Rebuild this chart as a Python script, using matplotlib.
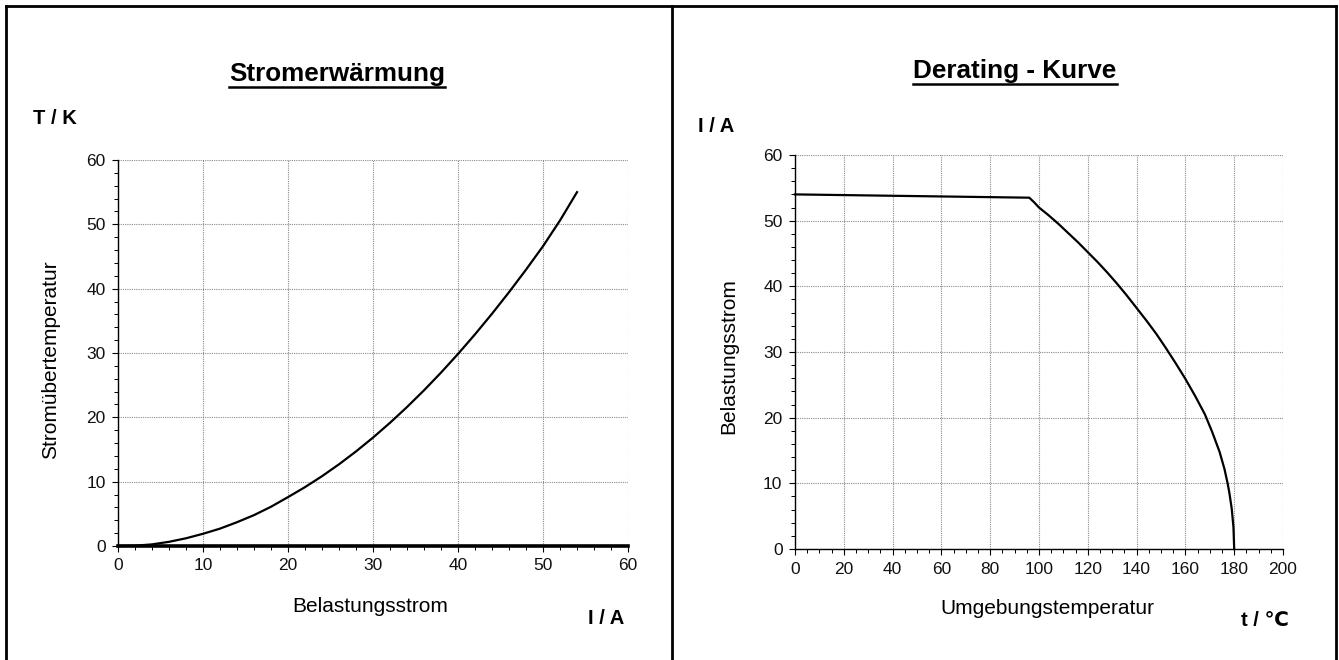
import matplotlib
matplotlib.use('Agg')
import matplotlib.pyplot as plt
from matplotlib.lines import Line2D
from matplotlib.ticker import MultipleLocator

plt.rcParams['font.family'] = ['Liberation Sans', 'DejaVu Sans']

# Stromerwärmung: Belastungsstrom (A) -> Stromübertemperatur (K)
strom = [0, 2, 4, 6, 8, 10, 12, 14, 16, 18, 20, 22, 24, 26, 28, 30,
         32, 34, 36, 38, 40, 42, 44, 46, 48, 50, 52, 54]
temp_anstieg = [0, 0.05, 0.25, 0.65, 1.2, 1.9, 2.7, 3.7, 4.8, 6.1, 7.6, 9.15, 10.85, 12.7, 14.7, 16.85,
                19.15, 21.6, 24.2, 26.95, 29.85, 32.9, 36.1, 39.45, 42.95, 46.6, 50.6, 55.0]

# Derating-Kurve: Umgebungstemperatur (°C) -> Belastungsstrom (A)
umgebung = [0, 96, 98, 100, 104, 108, 112, 116, 120, 124, 128, 132, 136, 140, 144, 148, 152,
            156, 160, 164, 168, 171, 174, 176, 177.3, 178, 179, 179.7, 180]
derating = [54.0, 53.5, 52.8, 52.0, 50.8, 49.5, 48.1, 46.7, 45.2, 43.7, 42.1, 40.4, 38.6, 36.7,
            34.8, 32.8, 30.6, 28.3, 25.9, 23.3, 20.5, 17.8, 14.8, 12.2, 10.0, 8.6, 6.1, 3.3, 0]

W, H = 1339, 660
fig = plt.figure(figsize=(W / 100, H / 100), dpi=100)


def px(x, y):
    return x / W, 1 - y / H


def style_axes(ax, xmax, xmaj, xmin_step, bottom_lw):
    ax.set_ylim(0, 60)
    ax.set_xlim(0, xmax)
    ax.xaxis.set_major_locator(MultipleLocator(xmaj))
    ax.xaxis.set_minor_locator(MultipleLocator(xmin_step))
    ax.yaxis.set_major_locator(MultipleLocator(10))
    ax.yaxis.set_minor_locator(MultipleLocator(2))
    ax.grid(True, which='major', color='#8a8a8a', linestyle=(0, (1, 1)), linewidth=0.8)
    ax.spines['top'].set_visible(False)
    ax.spines['right'].set_visible(False)
    ax.spines['left'].set_linewidth(1.0)
    ax.spines['bottom'].set_linewidth(bottom_lw)
    ax.tick_params(which='major', direction='out', length=4, width=0.8, labelsize=12.5, pad=5)
    ax.tick_params(which='minor', direction='out', length=3, width=0.7)
    for lab in ax.get_xticklabels() + ax.get_yticklabels():
        lab.set_color('#111111')


# linkes Diagramm
ax1 = fig.add_axes([118 / W, 1 - 546 / H, 510 / W, 386 / H])
style_axes(ax1, 60, 10, 2, 2.6)
ax1.plot(strom, temp_anstieg, color='black', lw=1.6, clip_on=False)

# rechtes Diagramm
ax2 = fig.add_axes([795 / W, 1 - 549 / H, 488 / W, 394 / H])
style_axes(ax2, 200, 20, 5, 1.0)
ax2.plot(umgebung, derating, color='black', lw=1.6, clip_on=False)

# Texte
fig.text(*px(337, 74), 'Stromerwärmung', ha='center', va='center', fontsize=18.8, fontweight='bold')
fig.text(*px(1015, 71), 'Derating - Kurve', ha='center', va='center', fontsize=18.8, fontweight='bold')
fig.text(*px(33, 118), 'T / K', ha='left', va='center', fontsize=14.5, fontweight='bold')
fig.text(*px(698, 127), 'I / A', ha='left', va='center', fontsize=14.5, fontweight='bold')
fig.text(*px(370, 607), 'Belastungsstrom', ha='center', va='center', fontsize=15)
fig.text(*px(1047, 609), 'Umgebungstemperatur', ha='center', va='center', fontsize=15)
fig.text(*px(606, 618), 'I / A', ha='center', va='center', fontsize=14.5, fontweight='bold')
fig.text(*px(1265, 621), 't / ℃', ha='center', va='center', fontsize=14.5, fontweight='bold')
fig.text(*px(51, 360), 'Stromübertemperatur', ha='center', va='center', fontsize=15, rotation=90)
fig.text(*px(729, 356), 'Belastungsstrom', ha='center', va='center', fontsize=15, rotation=90)

# Unterstreichung der Titel
fig.canvas.draw()
renderer = fig.canvas.get_renderer()
for t in fig.texts[:2]:
    bb = t.get_window_extent(renderer)
    y = bb.y0 - 1
    fig.add_artist(Line2D([bb.x0 / W, bb.x1 / W], [y / H, y / H], color='black', lw=1.8))

# Rahmen
frame = dict(color='black', lw=2.0)
fig.add_artist(Line2D([6 / W, 1336 / W], [1 - 6 / H, 1 - 6 / H], **frame))
fig.add_artist(Line2D([6 / W, 6 / W], [0, 1 - 6 / H], **frame))
fig.add_artist(Line2D([1336 / W, 1336 / W], [0, 1 - 6 / H], **frame))
fig.add_artist(Line2D([672 / W, 672 / W], [0, 1 - 6 / H], **frame))

fig.savefig('out.png', dpi=100)
